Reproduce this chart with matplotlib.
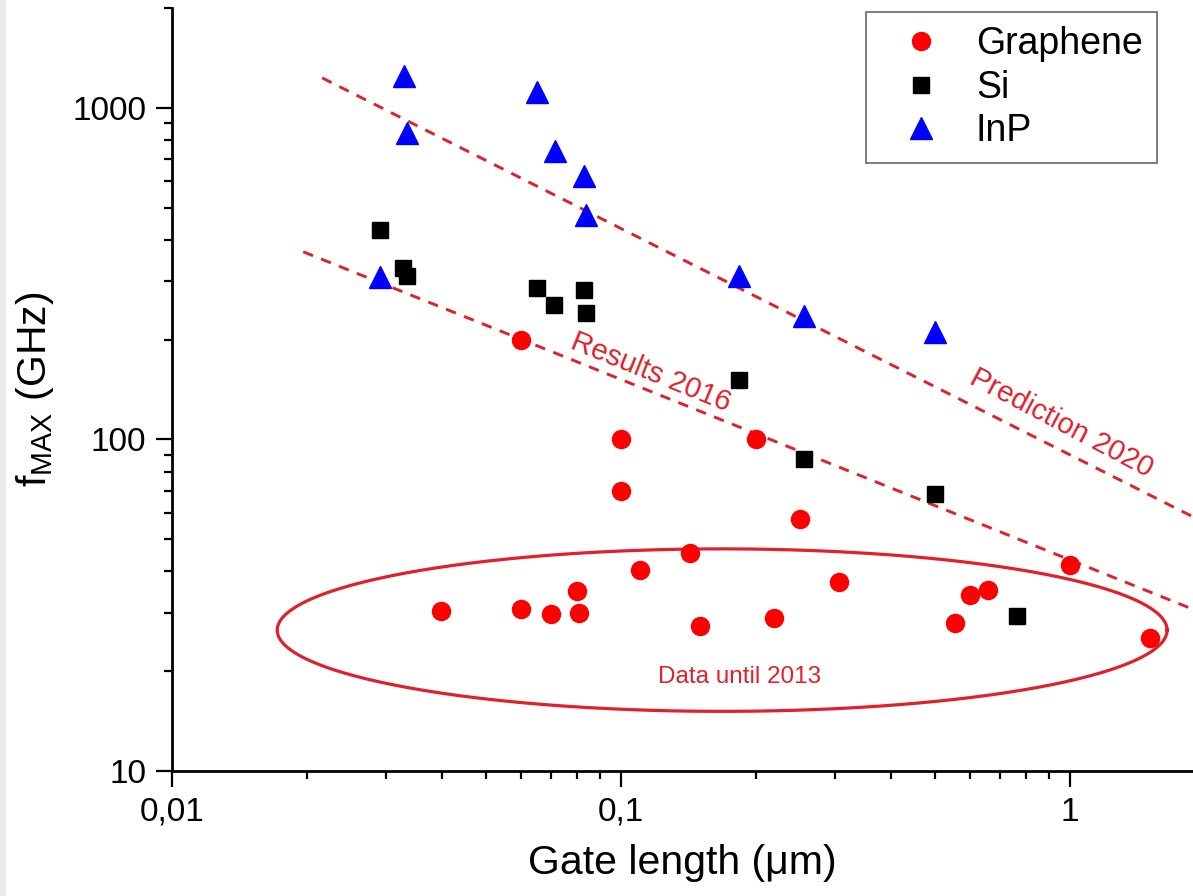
import numpy as np
import matplotlib
matplotlib.use("Agg")
import matplotlib.pyplot as plt
from matplotlib.patches import Rectangle
from matplotlib.ticker import FixedLocator, FuncFormatter, LogLocator, NullFormatter

plt.rcParams['font.family'] = ['Liberation Sans', 'DejaVu Sans']
plt.rcParams['mathtext.fontset'] = 'custom'
plt.rcParams['mathtext.rm'] = 'Liberation Sans'
plt.rcParams['mathtext.it'] = 'Liberation Sans'

# graphene data (gate length in um, fmax in GHz)
gr_x = [0.06, 0.1, 0.1, 0.2, 0.25, 1.0, 0.1425, 0.11, 0.08, 0.306, 0.60, 0.657,
        0.0397, 0.06, 0.0698, 0.0808, 0.15, 0.219, 0.555, 1.51]
gr_y = [200, 100, 70, 100, 57.5, 41.8, 45.5, 40.4, 34.9, 37.2, 34.0, 35.2,
        30.4, 30.8, 29.8, 29.9, 27.4, 28.9, 27.9, 25.2]
# Si data
si_x = [0.0291, 0.0327, 0.0334, 0.065, 0.071, 0.0827, 0.0834, 0.183, 0.256, 0.5, 0.762]
si_y = [428, 329, 311, 286, 254, 283, 241, 151, 87.3, 68.5, 29.4]
# InP data
inp_x = [0.0328, 0.0334, 0.065, 0.0713, 0.0827, 0.0834, 0.183, 0.256, 0.5, 0.0291]
inp_y = [1249, 841, 1117, 742, 623, 476, 311, 236, 211, 309]

# trend lines (end points)
pred_x = [0.0216, 1.88]
pred_y = [1231, 58.4]
res_x = [0.0196, 1.85]
res_y = [368, 31.0]

line_red = '#e0202a'

fig = plt.figure(figsize=(11.93, 8.96), dpi=100)
fig.patches.append(Rectangle((0, 0), 5 / 1193, 1, transform=fig.transFigure,
                             color='#ebebeb', zorder=-1))
ax = fig.add_axes([172 / 1193, 125 / 896, 1021 / 1193, 763 / 896])

ax.plot(pred_x, pred_y, color=line_red, lw=2.1, dashes=(3.6, 3.0), zorder=2)
ax.plot(res_x, res_y, color=line_red, lw=2.1, dashes=(3.6, 3.0), zorder=2)

# ellipse around old data (drawn in log space)
t = np.linspace(0, 2 * np.pi, 400)
cx, cy = np.log10(0.168), np.log10(26.6)
ax.plot(10 ** (cx + 0.991 * np.cos(t)), 10 ** (cy + 0.245 * np.sin(t)),
        color=line_red, lw=2.3, zorder=2)

ax.plot(gr_x, gr_y, 'o', color='#ff0000', ms=13, mec='#ff0000', label='Graphene', zorder=3)
ax.plot(si_x, si_y, 's', color='black', ms=12, label='Si', zorder=3)
ax.plot(inp_x, inp_y, '^', color='#0000ff', ms=16, label='InP', zorder=3)

ax.text(0.1167, 159.8, 'Results 2016', color=line_red, fontsize=21, rotation=-22,
        ha='center', va='center', rotation_mode='anchor')
ax.text(0.959, 112, 'Prediction 2020', color=line_red, fontsize=21, rotation=-27.8,
        ha='center', va='center', rotation_mode='anchor')
ax.text(0.184, 19.2, 'Data until 2013', color=line_red, fontsize=17.5,
        ha='center', va='center')

ax.set_xscale('log')
ax.set_yscale('log')
ax.set_xlim(0.01, 1.879)
ax.set_ylim(10, 2000)

ax.xaxis.set_major_locator(FixedLocator([0.01, 0.1, 1]))
ax.xaxis.set_major_formatter(FuncFormatter(lambda v, p: ('%g' % v).replace('.', ',')))
ax.xaxis.set_minor_locator(LogLocator(base=10, subs=np.arange(2, 10)))
ax.xaxis.set_minor_formatter(NullFormatter())
ax.yaxis.set_major_locator(FixedLocator([10, 100, 1000]))
ax.yaxis.set_major_formatter(FuncFormatter(lambda v, p: '%d' % v))
ax.yaxis.set_minor_locator(LogLocator(base=10, subs=np.arange(2, 10)))
ax.yaxis.set_minor_formatter(NullFormatter())

for s in ['top', 'right']:
    ax.spines[s].set_visible(False)
for s in ['left', 'bottom']:
    ax.spines[s].set_linewidth(2)
ax.tick_params(which='major', length=11.5, width=1.6, labelsize=24, pad=7)
ax.tick_params(which='minor', length=6, width=1.6)

ax.set_xlabel('Gate length (μm)', fontsize=29.5, labelpad=12)
ax.set_ylabel(r'f$_{\mathregular{MAX}}$ (GHz)', fontsize=29.5, labelpad=12)

leg = ax.legend(loc='upper left', bbox_to_anchor=(866 / 1193, 1 - 12 / 896),
                bbox_transform=fig.transFigure, borderaxespad=0, fontsize=27,
                frameon=True, fancybox=False, edgecolor='#505050',
                handletextpad=0.35, labelspacing=0.2, borderpad=0.38, handlelength=2.2)
leg.get_frame().set_linewidth(1.3)

fig.savefig('out.png', dpi=100)
